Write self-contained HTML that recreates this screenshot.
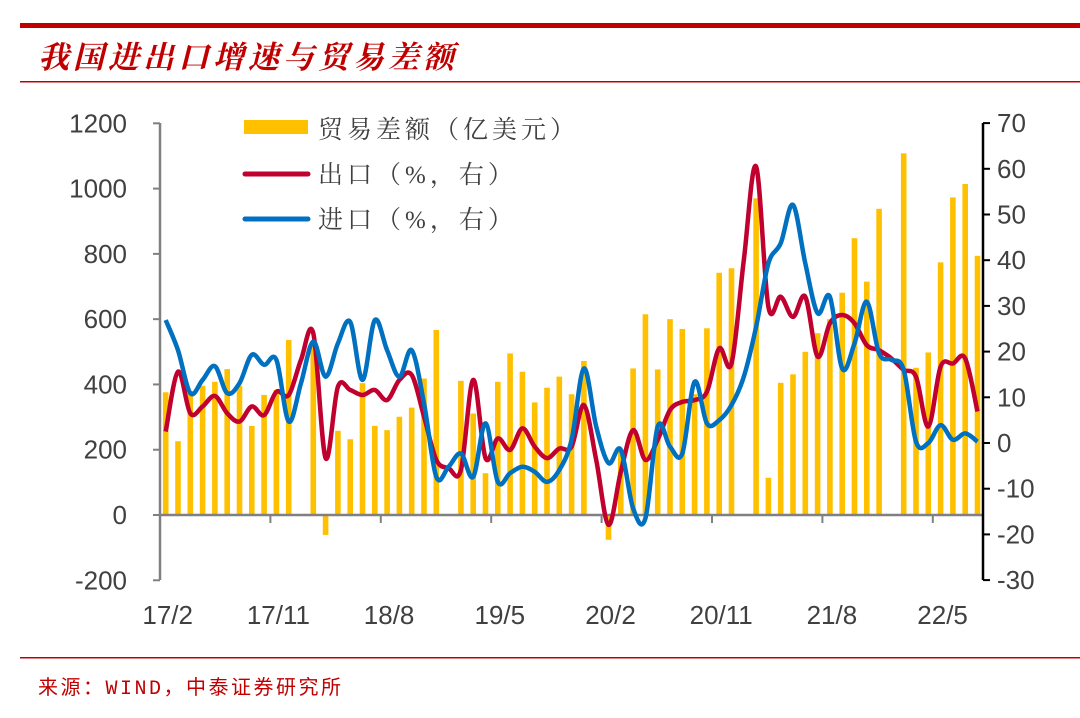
<!DOCTYPE html>
<html><head><meta charset="utf-8">
<style>
body{margin:0;background:#fff;width:1080px;height:713px;overflow:hidden;font-family:"Liberation Sans","Noto Sans CJK SC",sans-serif;}
</style></head>
<body>
<svg id="c" width="1080" height="713" xmlns="http://www.w3.org/2000/svg">
<rect x="20" y="23" width="1060" height="5" fill="#C00000"/>
<text x="38" y="68" font-size="31" font-style="italic" font-weight="bold" letter-spacing="4" fill="#C00000" font-family="'Liberation Serif','Noto Serif CJK SC',serif">我国进出口增速与贸易差额</text>
<rect x="20" y="81" width="1060" height="1.5" fill="#C00000"/>
<rect x="20" y="657" width="1060" height="1.5" fill="#C00000"/>
<text x="38" y="694" font-size="20" letter-spacing="2.5" fill="#C00000" font-family="'Liberation Mono','Noto Sans CJK SC',monospace">来源：WIND，中泰证券研究所</text>
<g id="plot"></g>
</svg>
<script>
const categories=[];for(let i=0;i<67;i++){const m=(1+i)%12+1,y=17+Math.floor((1+i)/12);categories.push(y+'/'+m);}
const tradeBalance=[376,226,380,396,408,447,396,273,368,383,536,null,526,-61,258,232,404,273,260,301,329,418,567,null,411,311,128,408,495,439,345,390,424,370,472,null,-76,200,449,615,446,600,570,370,572,742,756,null,970,114,405,431,500,557,600,681,848,715,938,null,1108,451,498,774,973,1014,794];
const exportYoY=[2.5,15.6,6.5,8,10.3,6.5,4.7,8,6.1,11.2,10.5,18.2,24,-3.3,12.3,11.6,10.5,11.6,9.4,13.8,14.9,5.8,-3.7,-5.5,-5.9,13.8,-3.3,1,-1.5,3.2,-0.8,-3.3,-1.2,-0.8,8.3,-3.7,-17.9,-6.3,2.8,-3.7,0.7,7.2,9,9.4,11.2,20.7,17.4,40,60.5,29.8,32,27.6,32,18.9,26.2,28,26.2,21.4,20.3,18.5,16,14.5,3.6,16.7,17.4,18.5,6.9];
const importYoY=[26.9,20.3,10.9,13.8,16.8,10.9,13.1,19.3,17.1,18.2,4.7,13.1,22.2,14.5,21.8,26.5,13.8,26.9,20.3,14.5,20.3,8.7,-7.4,-5.2,-2.3,-7.4,4.3,-8.5,-6.6,-5.2,-6.3,-8.5,-5.9,0.7,16.3,3.6,-4.4,-1.5,-14.3,-16.5,3.6,-0.8,-2.3,13.4,4.3,5,8.3,14.5,25.4,39.3,43.7,52.1,39.3,28.4,32,16.3,21.8,30.9,19.6,18.2,16,0.3,0,3.9,0.7,2.1,0.3];
const leftTicks=[1200,1000,800,600,400,200,0,-200];
const rightTicks=[70,60,50,40,30,20,10,0,-10,-20,-30];
const xLabelIdx=[0,9,18,27,36,45,54,63];

const NS='http://www.w3.org/2000/svg';
const g=document.getElementById('plot');
const x=i=>165.7+12.3*i;
const yL=v=>515-(v)*0.3264;
const yR=v=>443-(v)*4.57;
function el(t,a,p){const e=document.createElementNS(NS,t);for(const k in a)e.setAttribute(k,a[k]);(p||g).appendChild(e);return e;}

tradeBalance.forEach((v,i)=>{if(v===null)return;
 const e=el('rect',{x:x(i)-2.8,y:Math.min(yL(v),yL(0)),width:5.6,height:Math.abs(yL(v)-yL(0)),fill:'#FFC000'});
 
 });
let a=el('line',{x1:160,y1:123,x2:160,y2:580,stroke:'#808080','stroke-width':2.5});


a=el('line',{x1:160,y1:yL(0),x2:982,y2:yL(0),stroke:'#808080','stroke-width':2.5});


a=el('line',{x1:983,y1:123,x2:983,y2:580,stroke:'#000','stroke-width':2.5});


leftTicks.forEach(v=>{el('line',{x1:153,y1:yL(v),x2:160,y2:yL(v),stroke:'#808080','stroke-width':2});
 const t=el('text',{x:127,y:yL(v)+9,'text-anchor':'end','font-size':26,fill:'#404040'});t.textContent=v;
 
 });
rightTicks.forEach(v=>{el('line',{x1:983,y1:yR(v),x2:990,y2:yR(v),stroke:'#000','stroke-width':2});
 const t=el('text',{x:997,y:yR(v)+9,'font-size':26,fill:'#404040'});t.textContent=v;
 
 });
for(let k=1;k<=7;k++){el('line',{x1:160+110.4*k,y1:yL(0),x2:160+110.4*k,y2:yL(0)+8,stroke:'#808080','stroke-width':2});}
xLabelIdx.forEach(i=>{const t=el('text',{x:x(i)+2,y:624,'text-anchor':'middle','font-size':26,fill:'#404040'});t.textContent=categories[i];
 
 });
function path(arr){const p=arr.map((v,i)=>[x(i),yR(v)]);let d='M'+p[0][0]+','+p[0][1];
 for(let i=0;i<p.length-1;i++){const p0=p[i-1]||p[i],p1=p[i],p2=p[i+1],p3=p[i+2]||p2;
 const c1=[p1[0]+(p2[0]-p0[0])/6,p1[1]+(p2[1]-p0[1])/6],c2=[p2[0]-(p3[0]-p1[0])/6,p2[1]-(p3[1]-p1[1])/6];
 d+=` C${c1[0]},${c1[1]} ${c2[0]},${c2[1]} ${p2[0]},${p2[1]}`;}return d;}
let l=el('path',{d:path(exportYoY),fill:'none',stroke:'#C0002F','stroke-width':4.5,'stroke-linejoin':'round'});


l=el('path',{d:path(importYoY),fill:'none',stroke:'#0070C0','stroke-width':4.5,'stroke-linejoin':'round'});


const lg=el('g',{});


el('rect',{x:244,y:120,width:64,height:14,fill:'#FFC000'},lg);
el('line',{x1:245,y1:174,x2:308,y2:174,stroke:'#C0002F','stroke-width':5,'stroke-linecap':'round'},lg);
el('line',{x1:245,y1:219,x2:308,y2:219,stroke:'#0070C0','stroke-width':5,'stroke-linecap':'round'},lg);
[['贸易差额（亿美元）',138],['出口（%，右）',183],['进口（%，右）',228]].forEach(([s,yy])=>{
 const t=el('text',{x:318,y:yy,'font-size':25,fill:'#404040','letter-spacing':'4','font-family':"'Liberation Serif','Noto Serif CJK SC',serif"},lg);t.textContent=s;
 
 });
</script>
</body></html>
